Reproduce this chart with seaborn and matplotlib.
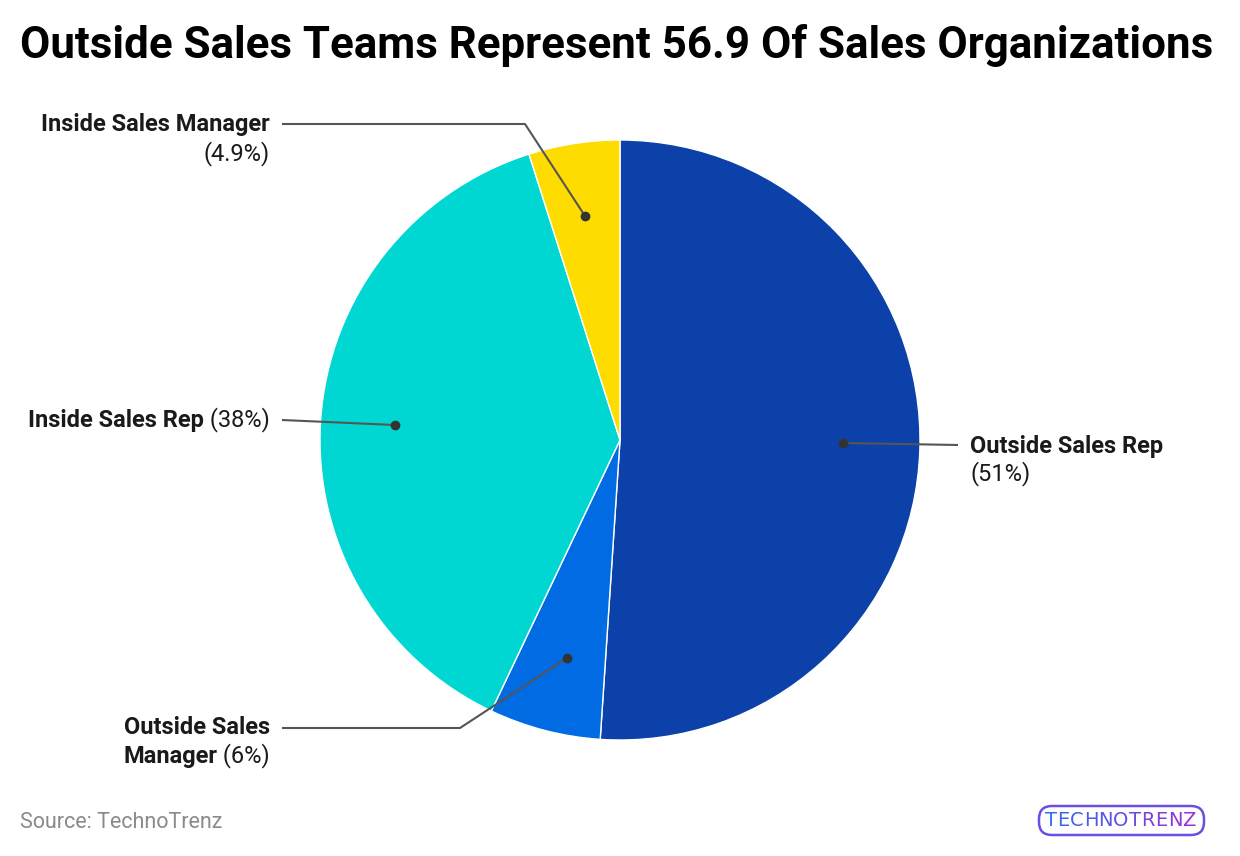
import matplotlib
matplotlib.use("Agg")
import matplotlib.pyplot as plt
import seaborn as sns
import numpy as np
from matplotlib.patches import FancyBboxPatch
import matplotlib.colors as mcolors

categories = ["Outside Sales Rep", "Outside Sales Manager", "Inside Sales Rep", "Inside Sales Manager"]
values = [51, 6, 38, 4.9]
pct_labels = ["(51%)", "(6%)", "(38%)", "(4.9%)"]
colors = ["#0B41A8", "#006BE3", "#00D7D2", "#FFDC00"]

title = "Outside Sales Teams Represent 56.9 Of Sales Organizations"
source = "Source: TechnoTrenz"

sns.set_theme(style="white")
plt.rcParams['font.family'] = ['Roboto', 'DejaVu Sans']

W, H = 1240, 856
fig = plt.figure(figsize=(W / 100, H / 100), dpi=100)

# pie drawn in equal-aspect axes (placed via figure fractions)
cx, cy, R = 620, 440, 300
pax = fig.add_axes([(cx - R) / W, 1 - (cy + R) / H, 2 * R / W, 2 * R / H])
pax.pie(values, colors=colors, startangle=90, counterclock=False,
        wedgeprops=dict(edgecolor="white", linewidth=1.0), radius=1.0)
pax.set_xlim(-1, 1)
pax.set_ylim(-1, 1)
pax.set_aspect("equal")
pax.axis("off")
pax.set_zorder(1)

# overlay axes in pixel coordinates for annotations
ax = fig.add_axes([0, 0, 1, 1])
ax.set_xlim(0, W)
ax.set_ylim(H, 0)
ax.axis("off")
ax.patch.set_alpha(0)
ax.set_zorder(2)

line_col = "#555555"
dot_col = "#333333"
txt_col = "#1a1a1a"
fs = 17

leaders = [
    [(843, 443), (958, 445)],
    [(567, 658), (460, 728), (282, 728)],
    [(395, 425), (282, 420)],
    [(585, 216), (525, 124), (282, 124)],
]
for pts in leaders:
    xs, ys = zip(*pts)
    ax.plot(xs, ys, color=line_col, lw=1.5, zorder=5, solid_capstyle="butt")
    ax.plot(xs[0], ys[0], "o", color=dot_col, ms=6, zorder=6)

fig.canvas.draw()
renderer = fig.canvas.get_renderer()

def width_px(t):
    return t.get_window_extent(renderer=renderer).width

def right_mixed(x_right, y, bold, reg):
    if reg:
        t2 = ax.text(x_right, y, reg, ha="right", va="center", fontsize=fs,
                     color=txt_col, fontweight="normal")
        w = width_px(t2)
        ax.text(x_right - w, y, bold, ha="right", va="center", fontsize=fs,
                color=txt_col, fontweight="bold")
    else:
        ax.text(x_right, y, bold, ha="right", va="center", fontsize=fs,
                color=txt_col, fontweight="bold")

# Outside Sales Rep
ax.text(970, 446, categories[0], ha="left", va="center", fontsize=fs, color=txt_col, fontweight="bold")
ax.text(970, 474, pct_labels[0], ha="left", va="center", fontsize=fs, color=txt_col)

# Outside Sales Manager
right_mixed(270, 728, "Outside Sales", "")
right_mixed(270, 756, "Manager", " " + pct_labels[1])

# Inside Sales Rep
right_mixed(270, 420, categories[2], " " + pct_labels[2])

# Inside Sales Manager
right_mixed(270, 124, categories[3], "")
ax.text(270, 154, pct_labels[3], ha="right", va="center", fontsize=fs, color=txt_col)

# Title
ax.text(20, 45, title, ha="left", va="center", fontsize=31.6, fontweight="bold", color="#000000")

# Source
ax.text(20, 823, source, ha="left", va="center", fontsize=15.5, color="#8a8a8a")

# Logo
box = FancyBboxPatch((1039, 806), 165, 29, boxstyle="round,pad=0,rounding_size=13",
                     linewidth=1.8, edgecolor="#6a4fe0", facecolor="white", zorder=3)
ax.add_patch(box)
logo = "TECHNOTRENZ"
c1 = np.array(mcolors.to_rgb("#2f6ef0"))
c2 = np.array(mcolors.to_rgb("#9b2fd6"))
x = 1045
for i, ch in enumerate(logo):
    c = c1 + (c2 - c1) * i / (len(logo) - 1)
    t = ax.text(x, 821, ch, ha="left", va="center", fontsize=14, color=c,
                fontfamily="DejaVu Sans", fontweight="normal", zorder=4)
    x += width_px(t) + 0.3

fig.savefig("out.png", dpi=100, facecolor="white")
